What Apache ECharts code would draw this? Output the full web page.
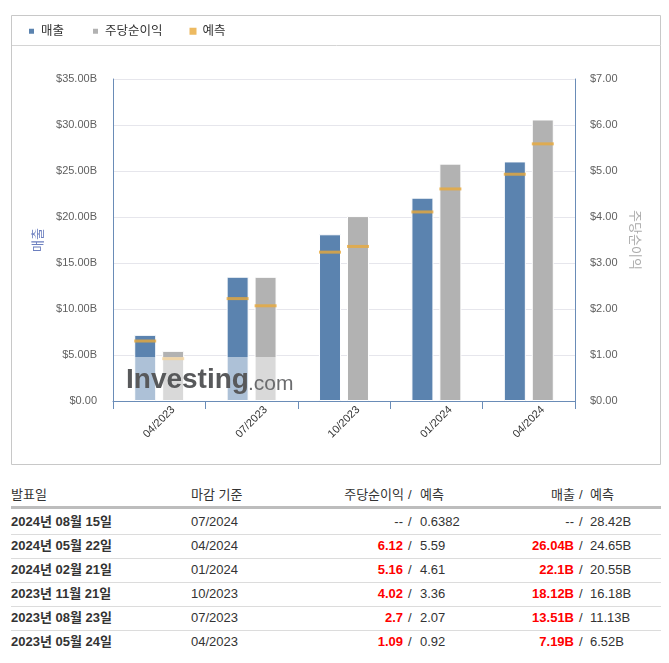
<!DOCTYPE html>
<html><head><meta charset="utf-8">
<script src="https://cdn.jsdelivr.net/npm/echarts@6/dist/echarts.min.js"></script>
<style>
html,body{margin:0;padding:0;background:#fff;width:669px;height:663px;overflow:hidden;font-family:"Liberation Sans","Noto Sans CJK KR",sans-serif;color:#333}
#chart{position:absolute;left:0;top:0;width:669px;height:470px}
.t{position:absolute;font-size:13px;white-space:nowrap;line-height:16px}
.b{font-weight:bold}
.red{color:#f00;font-weight:bold}
.ln{position:absolute;left:11px;width:650px;height:1px;background:#dcdcdc}
</style></head><body>
<div id="chart"></div>
<div id="table"></div>
<script>
// ---- data ----
const periods = ['04/2023','07/2023','10/2023','01/2024','04/2024'];
const revenue = [7.19, 13.51, 18.12, 22.1, 26.04];           // $B
const revenueForecast = [6.52, 11.13, 16.18, 20.55, 24.65];  // $B
const eps = [1.09, 2.7, 4.02, 5.16, 6.12];                    // $
const epsForecast = [0.92, 2.07, 3.36, 4.61, 5.59];           // $
const leftTicks = {min:0, max:35, interval:5};
const rightTicks = {min:0, max:7, interval:1};

// table rows
const tDates = ['2024년 08월 15일','2024년 05월 22일','2024년 02월 21일','2023년 11월 21일','2023년 08월 23일','2023년 05월 24일'];
const tPeriods = ['07/2024','04/2024','01/2024','10/2023','07/2023','04/2023'];
const tEps = ['--','6.12','5.16','4.02','2.7','1.09'];
const tEpsF = ['0.6382','5.59','4.61','3.36','2.07','0.92'];
const tRev = ['--','26.04B','22.1B','18.12B','13.51B','7.19B'];
const tRevF = ['28.42B','24.65B','20.55B','16.18B','11.13B','6.52B'];

const BLUE='#5b83af', GRAY='#b2b2b2', ORANGE='#e9a93a', AXIS='#6a8cb7';
const chart = echarts.init(document.getElementById('chart'), null, {renderer:'canvas'});
chart.setOption({
  animation:false,
  backgroundColor:'#fff',
  textStyle:{fontFamily:'"Liberation Sans","Noto Sans CJK KR",sans-serif'},
  legend:{
    left:22, top:20, itemWidth:7, itemHeight:7, itemGap:27, icon:'rect',
    textStyle:{fontSize:12.5,color:'#333',padding:[0,0,0,1]},
    data:['매출','주당순이익','예측']
  },
  grid:{left:113, right:94, top:79, bottom:69, containLabel:false},
  xAxis:{
    type:'category', data:periods, boundaryGap:true,
    axisLine:{lineStyle:{color:AXIS}},
    axisTick:{show:true, length:8, lineStyle:{color:AXIS}},
    axisLabel:{rotate:45, fontSize:11, color:'#333', margin:21, align:'center', verticalAlign:'middle'}
  },
  yAxis:[
    {type:'value', min:leftTicks.min, max:leftTicks.max, interval:leftTicks.interval,
     name:'매출', nameLocation:'middle', nameGap:64, nameRotate:90,
     nameTextStyle:{color:'#6c7fbf', fontSize:13},
     axisLine:{show:true, lineStyle:{color:AXIS}},
     axisTick:{show:false},
     axisLabel:{fontSize:11, color:'#606060', margin:16, formatter:v=>'$'+v.toFixed(2)+(v===0?'':'B')},
     splitLine:{lineStyle:{color:'#e6e6ec'}}},
    {type:'value', min:rightTicks.min, max:rightTicks.max, interval:rightTicks.interval,
     name:'주당순이익', nameLocation:'middle', nameGap:46, nameRotate:-90,
     nameTextStyle:{color:'#aaaaaa', fontSize:13},
     axisLine:{show:true, lineStyle:{color:AXIS}},
     axisTick:{show:false},
     axisLabel:{fontSize:11, color:'#606060', margin:15, formatter:v=>'$'+v.toFixed(2)},
     splitLine:{show:false}}
  ],
  series:[
    {name:'매출', type:'bar', yAxisIndex:0, data:revenue, barWidth:22, barGap:'27%',
     itemStyle:{color:BLUE, borderColor:'#fff', borderWidth:1}, z:2},
    {name:'주당순이익', type:'bar', yAxisIndex:1, data:eps, barWidth:22, barGap:'27%',
     itemStyle:{color:GRAY, borderColor:'#fff', borderWidth:1}, z:2},
    {name:'예측', type:'scatter', yAxisIndex:0, data:revenueForecast, symbol:'rect',
     symbolSize:[22,3], symbolOffset:[-14,0], itemStyle:{color:ORANGE}, z:3},
    {name:'예측', type:'scatter', yAxisIndex:1, data:epsForecast, symbol:'rect',
     symbolSize:[22,3], symbolOffset:[14,0], itemStyle:{color:ORANGE}, z:3}
  ],
  graphic:[
    {type:'rect', shape:{x:11.5,y:15.5,width:649,height:449}, style:{fill:null, stroke:'#c8c8c8', lineWidth:1}, z:0, silent:true},
    {type:'line', shape:{x1:12,y1:45.5,x2:661,y2:45.5}, style:{stroke:'#d4d4d4', lineWidth:1}, z:0, silent:true},
    {type:'rect', shape:{x:121,y:357,width:172,height:44}, style:{fill:'rgba(255,255,255,0.5)'}, z:10, silent:true},
    {type:'text', x:126, y:380, style:{text:'Investing', fontSize:28, fontWeight:'bold', fill:'#58595b', verticalAlign:'middle', fontFamily:'"Liberation Sans",sans-serif'}, z:11, silent:true},
    {type:'text', x:248, y:384, style:{text:'.com', fontSize:21, fill:'#6b6c6e', verticalAlign:'middle', fontFamily:'"Liberation Sans",sans-serif'}, z:11, silent:true}
  ]
});

// ---- table ----
const tb = document.getElementById('table');
let h = '';
function cell(x, y, txt, cls, align){
  if(align==='r') return `<div class="t ${cls||''}" style="right:${669-x}px;top:${y}px">${txt}</div>`;
  return `<div class="t ${cls||''}" style="left:${x}px;top:${y}px">${txt}</div>`;
}
const hy = 487;
h += cell(11,hy,'발표일');
h += cell(191,hy,'마감 기준');
h += cell(404,hy,'주당순이익','', 'r') + cell(408,hy,'/','') + cell(420,hy,'예측');
h += cell(575,hy,'매출','', 'r') + cell(579,hy,'/','') + cell(590,hy,'예측');
h += `<div style="position:absolute;left:11px;top:506px;width:650px;height:3px;background:#bdbdbd"></div>`;
for(let i=0;i<tDates.length;i++){
  const y = 514 + i*24;
  h += cell(11,y,tDates[i],'b');
  h += cell(191,y,tPeriods[i]);
  h += cell(403,y,tEps[i], tEps[i]==='--'?'':'red','r') + cell(408,y,'/') + cell(420,y,tEpsF[i]);
  h += cell(574,y,tRev[i], tRev[i]==='--'?'':'red','r') + cell(579,y,'/') + cell(590,y,tRevF[i]);
  if(i<tDates.length-1) h += `<div class="ln" style="top:${y+20}px"></div>`;
}
tb.innerHTML = h;
</script>
</body></html>
